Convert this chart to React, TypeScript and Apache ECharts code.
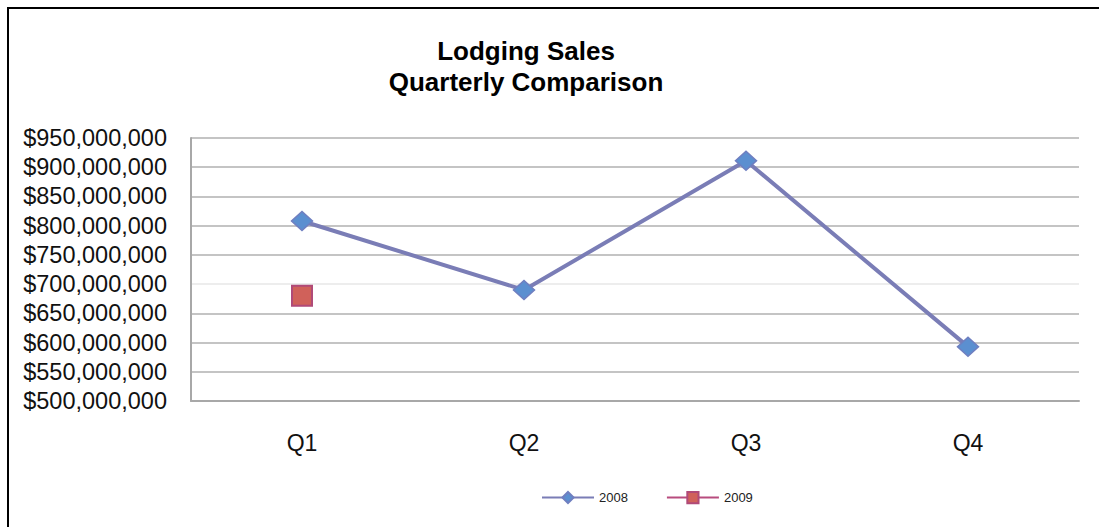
import React, { useEffect, useRef } from "react";
import * as echarts from "echarts";

const categories = ["Q1", "Q2", "Q3", "Q4"];
const sales2008 = [808000000, 690000000, 911000000, 593000000];
const sales2009 = [680000000, null, null, null];
const yTicks = { min: 500000000, max: 950000000, interval: 50000000 };

export default function App() {
  const ref = useRef<HTMLDivElement>(null);
  useEffect(() => {
    if (!ref.current) return;
    const chart = echarts.init(ref.current, null, { renderer: "svg" });
    const gridColors = ["#c4c4c4", "#c4c4c4", "#c4c4c4", "#c4c4c4", "#ededed", "#c4c4c4", "#c4c4c4", "#c4c4c4", "#c4c4c4", "#c4c4c4"];
    chart.setOption({
      animation: false,
      backgroundColor: "#ffffff",
      title: {
        text: "Lodging Sales\nQuarterly Comparison",
        left: 521,
        top: 30,
        textAlign: "center",
        textStyle: {
          fontFamily: "Liberation Sans, Arial, sans-serif",
          fontWeight: "bold",
          fontSize: 26,
          lineHeight: 31,
          color: "#000000",
        },
      },
      legend: {
        left: 541,
        top: 491,
        padding: 0,
        itemWidth: 52,
        itemHeight: 14,
        itemGap: 38,
        textStyle: {
          fontFamily: "Liberation Sans, Arial, sans-serif",
          fontSize: 13,
          color: "#222222",
        },
        data: ["2008", "2009"],
      },
      grid: { left: 191, right: 20, top: 138, bottom: 126, containLabel: false },
      xAxis: {
        type: "category",
        data: categories,
        boundaryGap: true,
        axisLine: { show: true, lineStyle: { color: "#a8a8a8", width: 2 } },
        axisTick: { show: false },
        axisLabel: {
          margin: 30,
          fontFamily: "Liberation Sans, Arial, sans-serif",
          fontSize: 23,
          color: "#111111",
        },
        splitLine: { show: false },
      },
      yAxis: {
        type: "value",
        min: yTicks.min,
        max: yTicks.max,
        interval: yTicks.interval,
        axisLine: { show: true, lineStyle: { color: "#a8a8a8", width: 2 } },
        axisTick: { show: false },
        axisLabel: {
          margin: 24,
          fontFamily: "Liberation Sans, Arial, sans-serif",
          fontSize: 23.5,
          color: "#111111",
          formatter: (v: number) => "$" + v.toLocaleString("en-US"),
        },
        splitLine: { show: true, lineStyle: { color: gridColors, width: 2 } },
      },
      series: [
        {
          name: "2008",
          type: "line",
          data: sales2008,
          symbol: "diamond",
          symbolSize: [21, 19],
          showAllSymbol: true,
          lineStyle: { color: "#7a7db6", width: 4 },
          itemStyle: { color: "#5b8fd0", borderColor: "#6f7fc0", borderWidth: 1.5 },
          z: 3,
        },
        {
          name: "2009",
          type: "line",
          data: sales2009,
          symbol: "rect",
          symbolSize: 20,
          connectNulls: false,
          lineStyle: { color: "#b84c7e", width: 4 },
          itemStyle: { color: "#d0615a", borderColor: "#b04a78", borderWidth: 2 },
          z: 4,
        },
      ],
    });
    return () => chart.dispose();
  }, []);
  return (
    <>
      <div
        ref={ref}
        style={{ position: "fixed", left: 0, top: 0, width: 1099, height: 527 }}
      />
      <div
        style={{
          position: "fixed",
          left: 7,
          top: 7,
          width: 1200,
          height: 600,
          borderTop: "2px solid #000",
          borderLeft: "2px solid #000",
          pointerEvents: "none",
        }}
      />
    </>
  );
}
